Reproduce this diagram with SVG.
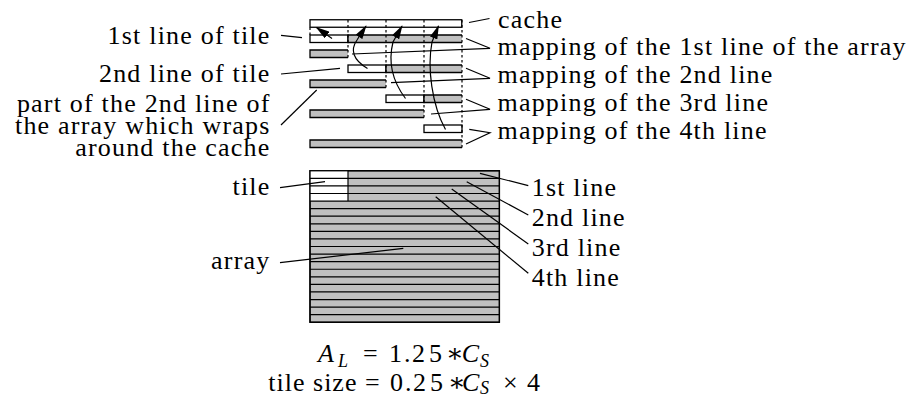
<svg xmlns="http://www.w3.org/2000/svg" width="914" height="394" viewBox="0 0 914 394">
<style>
.t{font-size:26px;fill:#000;letter-spacing:1.2px}
.e{text-anchor:end}
.it{font-style:italic}
.sub{font-size:18px;font-style:italic}
.box{fill:#fff;stroke:#000;stroke-width:1.3}
.bar{fill:#c0c0c0;stroke:#000;stroke-width:1.3}
.dash{fill:none;stroke:#000;stroke-width:1.2;stroke-dasharray:2.5 2.5}
.lead{fill:none;stroke:#000;stroke-width:1.2}
.arr{fill:none;stroke:#000;stroke-width:1.2;marker-end:url(#ah)}
.grid{stroke:#000;stroke-width:1.2}
</style>
<defs>
<marker id="ah" markerUnits="userSpaceOnUse" viewBox="0 0 14 8" markerWidth="14" markerHeight="8" refX="13" refY="4" orient="auto"><path d="M0,0 L14,4 L0,8 z" fill="#000"/></marker>
</defs>
<rect width="914" height="394" fill="#fff"/>

<g id="cache"><rect class="box" x="310" y="19.75" width="151.75" height="7.5"/></g>
<g id="map1">
<rect class="box" x="310" y="35" width="38" height="7.5"/>
<path class="bar" d="M462,35 H348 V42.5 H462"/>
<path class="bar" d="M348,50 H310 V57.5 H348"/>
</g>
<g id="map2">
<rect class="box" x="348" y="65" width="38" height="7.5"/>
<path class="bar" d="M462,65 H386 V72.5 H462"/>
<path class="bar" d="M386,80 H310 V87.5 H386"/>
</g>
<g id="map3">
<rect class="box" x="386" y="95" width="38" height="7.5"/>
<path class="bar" d="M462,95 H424 V102.5 H462"/>
<path class="bar" d="M424,110 H310 V117.5 H424"/>
</g>
<g id="map4">
<rect class="box" x="424" y="125" width="38" height="7.5"/>
<path class="bar" d="M462,140 H310 V147.5 H462"/>
</g>
<g id="dividers">
<path class="dash" d="M310,27.5 V35 M348,20 V57.5 M386,20 V87.5 M424,20 V117.5 M462,20 V147.5"/>
</g>

<g id="array">
<rect class="bar" x="310" y="170.75" width="189.4" height="151.5"/>
<rect fill="#fff" x="310" y="170.75" width="38" height="30.3"/>
<path class="grid" d="M310,178.33H499.4M310,185.9H499.4M310,193.48H499.4M310,201.05H499.4M310,208.63H499.4M310,216.2H499.4M310,223.78H499.4M310,231.35H499.4M310,238.93H499.4M310,246.5H499.4M310,254.08H499.4M310,261.65H499.4M310,269.23H499.4M310,276.8H499.4M310,284.38H499.4M310,291.95H499.4M310,299.53H499.4M310,307.1H499.4M310,314.68H499.4"/>
<path class="grid" fill="none" d="M348,170.75V201.05"/>
<rect fill="none" stroke="#000" stroke-width="1.3" x="310" y="170.75" width="189.4" height="151.5"/>
</g>

<g id="connectors">
<path class="arr" d="M332,38.5 L316.5,27.5"/>
<path class="arr" d="M367.5,68.5 C353,60 350,50 357,40 L366,26"/>
<path class="arr" d="M405.5,98.5 C393,82 388,62 393,42 L402,26"/>
<path class="arr" d="M445.5,129.5 C432,105 427,68 432,42 L438.5,26"/>
<path class="lead" d="M281,35.3 L302,37.7"/>
<path class="lead" d="M281,74 L340,68.3"/>
<path class="lead" d="M281,125 L316.7,90"/>
<path class="lead" d="M469,22.5 L489.5,18.5"/>
<path class="lead" d="M466,38.5 L490,48.3 L352,54"/>
<path class="lead" d="M466,68.3 L490,78.3 L391,82.7"/>
<path class="lead" d="M466,99.3 L490,109.3 L431,114"/>
<path class="lead" d="M469.3,129.3 L490,132.7 L466,144"/>
<path class="lead" d="M280,187.7 L325,181.7"/>
<path class="lead" d="M280,262.7 L403.3,248.3"/>
<path class="lead" d="M480,173.3 L528.3,185.7"/>
<path class="lead" d="M466.7,181.7 L528.3,215"/>
<path class="lead" d="M451.7,189 L528.3,244"/>
<path class="lead" d="M435.7,196.7 L528.3,273.3"/>
</g>

<g id="labels-left" font-family="Liberation Serif">
<text class="t e" x="270.5" y="43.5" letter-spacing="0.9">1st line of tile</text>
<text class="t e" x="270.5" y="81.5" letter-spacing="0.9">2nd line of tile</text>
<text class="t e" x="270.5" y="111.5" letter-spacing="1.26">part of the 2nd line of</text>
<text class="t e" x="270.5" y="133.5" letter-spacing="1.27">the array which wraps</text>
<text class="t e" x="270.5" y="155.5" letter-spacing="1.26">around the cache</text>
<text class="t e" x="270.5" y="195" letter-spacing="0.8">tile</text>
<text class="t e" x="270.5" y="269" letter-spacing="1.3">array</text>
</g>
<g id="labels-right" font-family="Liberation Serif">
<text class="t" x="498" y="28" letter-spacing="0.5">cache</text>
<text class="t" x="497.5" y="55" letter-spacing="1.16">mapping of the 1st line of the array</text>
<text class="t" x="497.5" y="83" letter-spacing="1.11">mapping of the 2nd line</text>
<text class="t" x="497.5" y="111" letter-spacing="1.21">mapping of the 3rd line</text>
<text class="t" x="497.5" y="139" letter-spacing="1.27">mapping of the 4th line</text>
<text class="t" x="531.7" y="195.5" letter-spacing="1.15">1st line</text>
<text class="t" x="531.7" y="225.5" letter-spacing="1.12">2nd line</text>
<text class="t" x="531.7" y="255.5" letter-spacing="1.23">3rd line</text>
<text class="t" x="531.7" y="285.5" letter-spacing="1.4">4th line</text>
</g>
<g id="formula" font-family="Liberation Serif">
<text class="t" y="362" letter-spacing="0"><tspan class="it" x="318">A</tspan><tspan class="sub" x="338" y="366.5">L</tspan><tspan x="363" y="362">=</tspan><tspan x="389 404 412 429" y="362">1.25</tspan><tspan font-family="DejaVu Serif" x="446">∗</tspan><tspan class="it" x="461.7">C</tspan><tspan class="sub" x="480" y="366.5">S</tspan></text>
<text class="t" y="391" letter-spacing="0"><tspan x="268.3" letter-spacing="1">tile size</tspan><tspan x="365">=</tspan><tspan x="390 405 413 430">0.25</tspan><tspan font-family="DejaVu Serif" x="448">∗</tspan><tspan class="it" x="462">C</tspan><tspan class="sub" x="480" y="394">S</tspan><tspan x="503" y="391">×</tspan><tspan x="527">4</tspan></text>
</g>
</svg>
